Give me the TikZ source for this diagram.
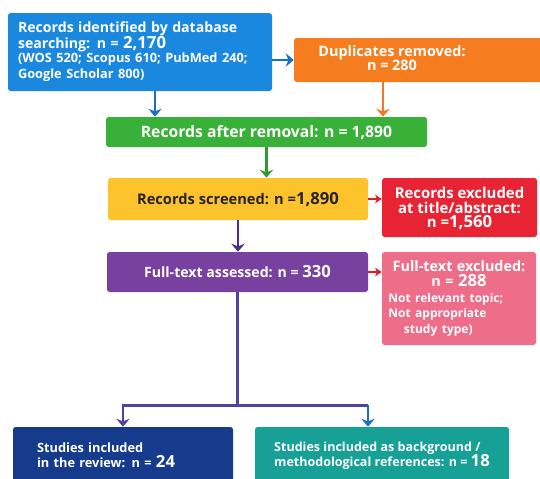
\documentclass[tikz,border=0pt]{standalone}
\usepackage{xcolor}
\usepackage{fontspec}
\setmainfont{Open Sans}
\usepackage{tikz}
\usetikzlibrary{arrows.meta, positioning, calc}

\definecolor{cident}{RGB}{26,136,222}
\definecolor{cdup}{RGB}{245,125,32}
\definecolor{cafter}{RGB}{57,177,57}
\definecolor{cscreen}{RGB}{252,195,45}
\definecolor{cexclA}{RGB}{232,36,52}
\definecolor{cassess}{RGB}{120,65,160}
\definecolor{cexclB}{RGB}{238,110,138}
\definecolor{cincl}{RGB}{22,58,140}
\definecolor{cbgref}{RGB}{22,160,150}
\definecolor{cdark}{RGB}{40,35,50}
\definecolor{lblue}{RGB}{25,110,200}
\definecolor{lorange}{RGB}{240,120,40}
\definecolor{lgreen}{RGB}{45,155,45}
\definecolor{lpurple}{RGB}{75,45,140}
\definecolor{lred}{RGB}{220,30,45}
\definecolor{lindigo}{RGB}{80,65,165}

\newcommand{\bignum}[1]{\smash{\fontsize{12.5}{12}\selectfont #1}}

\begin{document}
\begin{tikzpicture}[x=0.75pt, y=-0.75pt,
  box/.style={rectangle, rounded corners=2pt, inner sep=0pt, text=white, font=\bfseries, align=center},
  arrow/.style={line width=2pt, -{Stealth[length=6pt, width=10pt, inset=2pt]}},
  small arrow/.style={line width=1.2pt, -{Stealth[length=5pt, width=6.5pt, inset=1.5pt]}}
]
  \useasboundingbox (0,0) rectangle (540,479);
  \clip (0,0) rectangle (540,479);

  \node[box, fill=cident, minimum width=198pt, minimum height=58.5pt, text width=183pt, align=left] (ident) at (140,52) {\fontsize{10.6}{10.5}\selectfont Records identified by database\\ searching: n = \bignum{2,170}\par\fontsize{9.6}{9.5}\selectfont (WOS 520; Scopus 610; PubMed 240;\\ Google Scholar 800)};
  \node[box, fill=cdup, minimum width=196.5pt, minimum height=33pt, font=\bfseries\fontsize{10.8}{10.5}\selectfont] (dup) at (425,60) {\begin{tabular}{@{}c@{}}Duplicates removed:\\ n = 280\end{tabular}\hspace{49.5pt}};
  \node[box, fill=cafter, minimum width=240.75pt, minimum height=22.5pt, font=\bfseries\fontsize{11.8}{12}\selectfont] (after) at (266.5,132) {Records after removal: n = 1,890};
  \node[box, fill=cscreen, text=cdark, minimum width=195pt, minimum height=31.5pt, font=\bfseries\fontsize{11}{12}\selectfont] (screen) at (238,199) {Records screened: n =\bignum{1,890}};
  \node[box, fill=cexclA, minimum width=116.25pt, minimum height=44.25pt, font=\bfseries\fontsize{11.2}{10.8}\selectfont] (exclA) at (459.5,207.5) {Records excluded\\ at title/abstract:\\ n =\bignum{1,560}};
  \node[box, fill=cassess, minimum width=195.75pt, minimum height=30pt, font=\bfseries\fontsize{10.6}{12}\selectfont] (assess) at (237.5,272) {Full-text assessed: n = \bignum{330}};
  \node[box, fill=cexclB, minimum width=115.5pt, minimum height=69.75pt, text width=106pt, align=left] (exclB) at (459,298.5) {{\centering\fontsize{10.8}{11.3}\selectfont Full-text excluded:\\ n = \bignum{288}\par}\fontsize{9}{11.8}\selectfont Not relevant topic;\\ Not appropriate\\ \hspace*{1.3em}study type)};
  \node[box, fill=cincl, minimum width=165pt, minimum height=42.75pt, text width=129pt, align=left, font=\bfseries\fontsize{9.6}{11.3}\selectfont] (incl) at (123,455.5) {Studies included\\ in the review: n = \bignum{24}};
  \node[box, fill=cbgref, minimum width=190.5pt, minimum height=42.75pt, align=left, font=\bfseries\fontsize{9.4}{11.3}\selectfont] (bgref) at (382,455.5) {Studies included as background /\\ methodological references: n = \bignum{18}};

  \coordinate (identout) at ($(ident.south)+(15,0)$);
  \coordinate (dupout) at ($(dup.south)+(-42,0)$);
  \coordinate (split) at ($(assess.south)+(0,113)$);
  \coordinate (bgin) at ($(bgref.north)+(-14,0)$);

  \draw[arrow, lblue] (ident.east |- dup.west) -- (dup.west);
  \draw[arrow, lblue] (identout) -- (identout |- after.north);
  \draw[arrow, lorange] (dupout) -- (dupout |- after.north);
  \draw[arrow, lgreen] (after.south) -- (after.south |- screen.north);
  \draw[arrow, lpurple] (screen.south) -- (screen.south |- assess.north);
  \draw[small arrow, lred] (screen.east) -- (screen.east -| exclA.west);
  \draw[small arrow, lred] (assess.east) -- (assess.east -| exclB.west);
  \draw[line width=2pt, lindigo] (assess.south) -- (split);
  \draw[arrow, lindigo] (split) -| (incl.north);
  \draw[line width=2pt, lindigo] (split) -- (split -| bgin);
  \draw[arrow, lblue] (split -| bgin) -- (bgin);
\end{tikzpicture}
\end{document}
